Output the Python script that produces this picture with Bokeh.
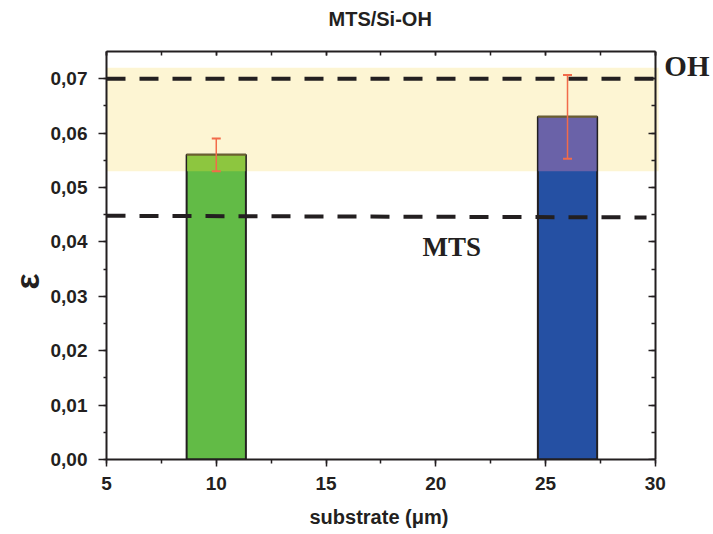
from bokeh.plotting import figure
from bokeh.models import (Range1d, LinearAxis, SingleIntervalTicker, CustomJSTickFormatter,
                          Whisker, TeeHead, ColumnDataSource, Label, Title)
from bokeh.embed import file_html
from bokeh.resources import INLINE

# ---- data ----
substrate = [10, 26]
epsilon = [0.056, 0.063]
eps_err = [0.003, 0.0077]
bar_colors = ["#62BB46", "#2550A3"]
bar_colors_in_band = ["#8DC63F", "#6A62A8"]
bar_width = 2.7
oh_band_y = [0.053, 0.072]
oh_band_x = [5, 30.15]
oh_line_x = [5, 30]
oh_line_y = [0.070, 0.070]
mts_line_x = [5, 29.6]
mts_line_y = [0.0448, 0.0445]
x_axis_bounds = (5, 30)
x_view = (5, 32.65)
y_lim = (0, 0.075)
title_text = "MTS/Si-OH"
x_label_text = "substrate (\u03bcm)"
y_label_text = "\u03b5"

FONT = "Liberation Sans"
INK = "#231F20"

p = figure(width=713, height=534, x_range=Range1d(*x_view), y_range=Range1d(*y_lim),
           output_backend="svg", toolbar_location=None,
           min_border_left=106, min_border_right=0, min_border_top=51, min_border_bottom=75)
p.grid.visible = False
p.outline_line_color = None
p.background_fill_color = "white"
p.border_fill_color = "white"

# axes
def style_axis(ax):
    ax.axis_line_color = INK
    ax.axis_line_width = 2
    ax.major_tick_line_color = INK
    ax.minor_tick_line_color = INK
    ax.major_tick_line_width = 1.5
    ax.minor_tick_line_width = 1.5
    ax.major_label_text_font = FONT
    ax.major_label_text_font_style = "bold"
    ax.major_label_text_font_size = "19px"
    ax.major_label_text_color = INK

fmt = CustomJSTickFormatter(code="return tick.toFixed(2).replace('.', ',');")
blank = CustomJSTickFormatter(code="return '';")

xa = p.xaxis[0]
ya = p.yaxis[0]
xa.ticker = SingleIntervalTicker(interval=5, num_minor_ticks=2)
xa.bounds = x_axis_bounds
ya.ticker = SingleIntervalTicker(interval=0.01, num_minor_ticks=2)
ya.formatter = fmt
for ax in (xa, ya):
    style_axis(ax)
    ax.major_tick_in = 0
    ax.minor_tick_in = 0
xa.major_tick_out = 7
xa.minor_tick_out = 4
xa.major_label_standoff = 10
ya.major_tick_out = 8
ya.minor_tick_out = 3
ya.major_label_standoff = 11

top = LinearAxis(ticker=SingleIntervalTicker(interval=5, num_minor_ticks=2), bounds=x_axis_bounds,
                 formatter=blank)
right = LinearAxis(ticker=SingleIntervalTicker(interval=0.01, num_minor_ticks=2),
                   fixed_location=x_axis_bounds[1], formatter=blank)
for ax in (top, right):
    style_axis(ax)
    ax.major_label_text_font_size = "1px"
    ax.major_label_standoff = 0
    ax.major_tick_out = 0
    ax.minor_tick_out = 0
top.major_tick_in = 4
top.minor_tick_in = 4
right.major_tick_in = 7
right.minor_tick_in = 4
p.add_layout(top, "above")
p.add_layout(right, "right")

# titles / axis labels as Title objects so they can be offset
p.add_layout(Title(text=title_text, align="left", offset=222, standoff=0,
                   padding=dict(left=0, right=0, top=0, bottom=22),
                   text_font=FONT, text_font_size="20px", text_font_style="bold",
                   text_color=INK), "above")
p.add_layout(Title(text=x_label_text, align="left", offset=203, standoff=0,
                   padding=dict(left=0, right=0, top=11, bottom=0),
                   text_font=FONT, text_font_size="20px", text_font_style="bold",
                   text_color=INK), "below")
p.add_layout(Title(text=y_label_text, align="left", offset=170, standoff=0, vertical_align="top",
                   padding=dict(left=0, right=0, top=0, bottom=7),
                   text_font=FONT, text_font_size="34px", text_font_style="bold",
                   text_color=INK), "left")

# shaded OH band
p.quad(left=[oh_band_x[0]], right=[oh_band_x[1]], bottom=[oh_band_y[0]], top=[oh_band_y[1]],
       fill_color="#FDF5D3", line_color=None)

# bars
src = ColumnDataSource(dict(x=substrate, top=epsilon, color=bar_colors,
                            color_band=bar_colors_in_band,
                            band_bottom=[oh_band_y[0]] * len(substrate),
                            band_top=[max(v, oh_band_y[0]) for v in epsilon],
                            upper=[v + e for v, e in zip(epsilon, eps_err)],
                            lower=[v - e for v, e in zip(epsilon, eps_err)]))
p.vbar(x="x", top="top", bottom=0, width=bar_width, fill_color="color",
       line_color=INK, line_width=2, source=src)
p.vbar(x="x", top="band_top", bottom="band_bottom", width=bar_width - 0.05,
       fill_color="color_band", line_color=None, source=src)
p.segment(x0=[x - bar_width / 2 for x in substrate], x1=[x + bar_width / 2 for x in substrate],
          y0=epsilon, y1=epsilon, line_color="#6B5F2F", line_width=2)

# dashed reference lines
p.line(oh_line_x, oh_line_y, line_color=INK, line_width=4, line_dash="19 14")
p.line(mts_line_x, mts_line_y, line_color=INK, line_width=4, line_dash="19 14")

# error bars
err_color = "#F26B4A"
w = Whisker(base="x", upper="upper", lower="lower", source=src, line_color=err_color,
            line_width=1.5, level="overlay",
            upper_head=TeeHead(size=9, line_color=err_color, line_width=2),
            lower_head=TeeHead(size=9, line_color=err_color, line_width=2))
p.add_layout(w)

# text labels
p.add_layout(Label(x=30.41, y=0.0724, text="OH", text_font="Liberation Serif",
                   text_baseline="alphabetic",
                   text_font_style="bold", text_font_size="29px", text_color=INK))
p.add_layout(Label(x=19.4, y=0.039, text="MTS", text_font="Liberation Serif",
                   text_baseline="alphabetic",
                   text_font_style="bold", text_font_size="27px", text_color=INK))

open("out.html", "w").write(file_html(p, INLINE))
